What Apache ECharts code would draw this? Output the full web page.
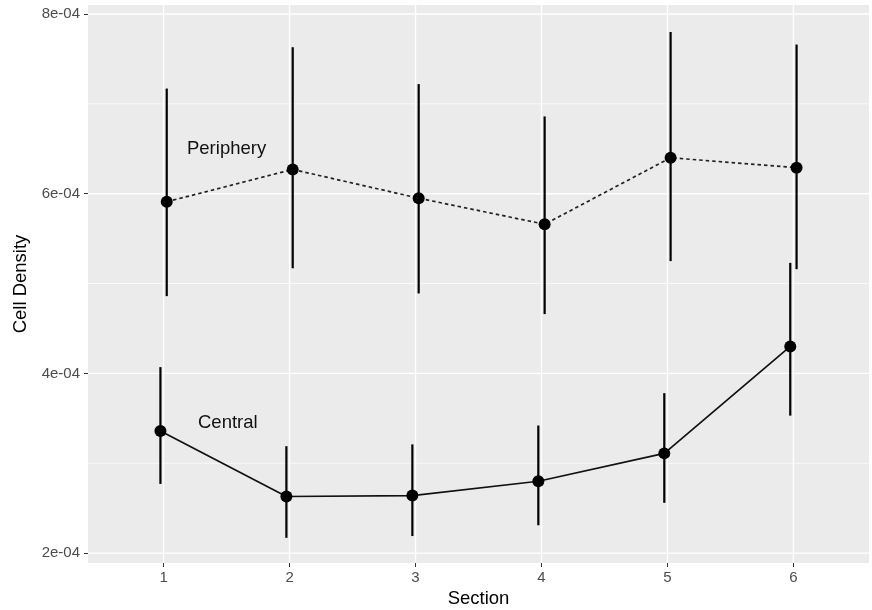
<!DOCTYPE html>
<html>
<head>
<meta charset="utf-8">
<script src="https://cdn.jsdelivr.net/npm/echarts@6/dist/echarts.min.js"></script>
<style>html,body{margin:0;padding:0;background:#fff}#c{width:872px;height:610px}</style>
</head>
<body>
<div id="c"></div>
<script>
const sections = [1, 2, 3, 4, 5, 6];
const periphery = [5.91e-4, 6.27e-4, 5.95e-4, 5.66e-4, 6.40e-4, 6.29e-4];
const peripheryLow = [4.86e-4, 5.17e-4, 4.89e-4, 4.66e-4, 5.25e-4, 5.16e-4];
const peripheryHigh = [7.17e-4, 7.63e-4, 7.22e-4, 6.86e-4, 7.80e-4, 7.66e-4];
const central = [3.36e-4, 2.63e-4, 2.64e-4, 2.80e-4, 3.11e-4, 4.30e-4];
const centralLow = [2.77e-4, 2.17e-4, 2.19e-4, 2.31e-4, 2.56e-4, 3.53e-4];
const centralHigh = [4.07e-4, 3.19e-4, 3.21e-4, 3.42e-4, 3.78e-4, 5.23e-4];
const yTicks = [2e-4, 4e-4, 6e-4, 8e-4];
const yMinor = [3e-4, 5e-4, 7e-4];
const yTickLabels = ['2e-04', '4e-04', '6e-04', '8e-04'];
const xTickLabels = ['1', '2', '3', '4', '5', '6'];
const seriesLabels = ['Periphery', 'Central'];
const labelPos = [[1.5, 6.5e-4], [1.51, 3.45e-4]];
const dodge = 0.025;

const chart = echarts.init(document.getElementById('c'), null, {renderer: 'canvas'});
const ff = '"Liberation Sans", Arial, sans-serif';

function pts(vals, off) { return sections.map((s, i) => [s + off, vals[i]]); }
function bars(lo, hi, off) { return sections.map((s, i) => [s + off, lo[i], hi[i]]); }

const errRender = function (params, api) {
  const p1 = api.coord([api.value(0), api.value(1)]);
  const p2 = api.coord([api.value(0), api.value(2)]);
  return {type: 'line', shape: {x1: p1[0], y1: p1[1], x2: p2[0], y2: p2[1]},
    style: {stroke: '#000', lineWidth: 2.2}};
};

// grid lines: [kind, value, width]  kind 0 = horizontal, 1 = vertical
const gridData = [];
yTicks.forEach(v => gridData.push([0, v, 1.4]));
yMinor.forEach(v => gridData.push([0, v, 0.7]));
sections.forEach(v => gridData.push([1, v, 1.4]));

const gridRender = function (params, api) {
  const cs = params.coordSys;
  const kind = api.value(0), v = api.value(1), w = api.value(2);
  if (kind === 0) {
    const y = api.coord([1, v])[1];
    return {type: 'line', shape: {x1: cs.x, y1: y, x2: cs.x + cs.width, y2: y}, style: {stroke: '#fff', lineWidth: w}};
  }
  const x = api.coord([v, 5e-4])[0];
  return {type: 'line', shape: {x1: x, y1: cs.y, x2: x, y2: cs.y + cs.height}, style: {stroke: '#fff', lineWidth: w}};
};

const textRender = function (params, api) {
  const p = api.coord([api.value(0), api.value(1)]);
  return {type: 'text', x: p[0], y: p[1],
    style: {text: seriesLabels[params.dataIndex], fill: '#111', font: '18.5px ' + ff, align: 'center', verticalAlign: 'middle'}};
};

chart.setOption({
  animation: false,
  backgroundColor: '#fff',
  grid: {left: 88, right: 3, top: 5, bottom: 47, show: true, backgroundColor: '#ebebeb', borderWidth: 0,
    containLabel: false, outerBoundsMode: 'none'},
  xAxis: {
    type: 'value', min: 0.4, max: 6.6,
    name: 'Section', nameLocation: 'middle', nameGap: 25,
    nameTextStyle: {color: '#000', fontSize: 18.5, fontFamily: ff},
    axisLine: {show: false},
    axisTick: {show: true, length: 4, lineStyle: {color: '#333'}, customValues: sections},
    axisLabel: {color: '#4d4d4d', fontSize: 15, fontFamily: ff, margin: 7, customValues: sections,
      formatter: v => xTickLabels[sections.indexOf(Math.round(v))]},
    splitLine: {show: false}
  },
  yAxis: {
    type: 'value', min: 1.89e-4, max: 8.1e-4,
    name: 'Cell Density', nameLocation: 'middle', nameGap: 54, nameRotate: 90,
    nameTextStyle: {color: '#000', fontSize: 18.5, fontFamily: ff},
    axisLine: {show: false},
    axisTick: {show: true, length: 4, lineStyle: {color: '#333'}, customValues: yTicks},
    axisLabel: {color: '#4d4d4d', fontSize: 15, fontFamily: ff, margin: 8, customValues: yTicks,
      formatter: v => { const i = yTicks.findIndex(t => Math.abs(t - v) < 1e-9); return i >= 0 ? yTickLabels[i] : ''; }},
    splitLine: {show: false}
  },
  series: [
    {type: 'custom', name: 'grid', renderItem: gridRender, data: gridData, z: 0, silent: true, clip: true},
    {type: 'custom', name: 'pErr', renderItem: errRender, data: bars(peripheryLow, peripheryHigh, dodge), z: 2},
    {type: 'custom', name: 'cErr', renderItem: errRender, data: bars(centralLow, centralHigh, -dodge), z: 2},
    {type: 'line', name: 'Periphery', data: pts(periphery, dodge), symbol: 'circle', symbolSize: 12,
      itemStyle: {color: '#000'}, lineStyle: {color: '#222', width: 1.7, type: [3.5, 3]}, z: 3},
    {type: 'line', name: 'Central', data: pts(central, -dodge), symbol: 'circle', symbolSize: 12,
      itemStyle: {color: '#000'}, lineStyle: {color: '#111', width: 1.7}, z: 3},
    {type: 'custom', name: 'labels', renderItem: textRender, data: labelPos, z: 4, silent: true}
  ]
});
</script>
</body>
</html>
